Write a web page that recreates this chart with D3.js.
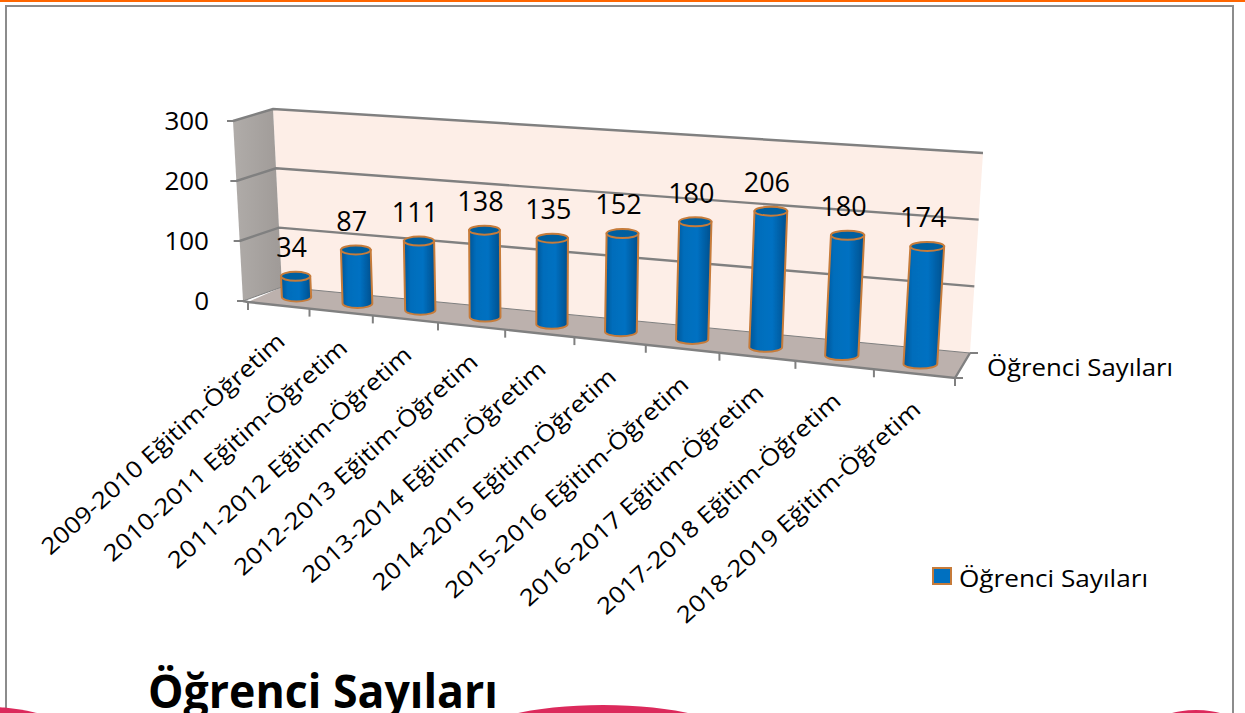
<!DOCTYPE html>
<html>
<head>
<meta charset="utf-8">
<script src="https://cdn.jsdelivr.net/npm/d3@7"></script>
<style>
    html, body { margin: 0; padding: 0; background: #fff; overflow: hidden; }
    text { font-family: "Open Sans", "Noto Sans", sans-serif; fill: #000; }
</style>
</head>
<body>
<script>
const categories = [
    '2009-2010 Eğitim-Öğretim', '2010-2011 Eğitim-Öğretim', '2011-2012 Eğitim-Öğretim',
    '2012-2013 Eğitim-Öğretim', '2013-2014 Eğitim-Öğretim', '2014-2015 Eğitim-Öğretim',
    '2015-2016 Eğitim-Öğretim', '2016-2017 Eğitim-Öğretim', '2017-2018 Eğitim-Öğretim',
    '2018-2019 Eğitim-Öğretim'
];
const values = [34, 87, 111, 138, 135, 152, 180, 206, 180, 174];
const valueTicks = [0, 100, 200, 300];
const seriesName = 'Öğrenci Sayıları';

const width = 1245, height = 713;

const svg = d3.select('body').append('svg')
    .attr('width', width)
    .attr('height', height)
    .attr('viewBox', [0, 0, width, height]);

const defs = svg.append('defs');

// Slight softness, the marks in the picture are not crisp
defs.append('filter').attr('id', 'soft')
    .append('feGaussianBlur').attr('stdDeviation', 0.6);

const barGrad = defs.append('linearGradient').attr('id', 'barGrad');
[[0, '#005596'], [0.22, '#006dbb'], [0.6, '#0071c2'], [1, '#004f8c']].forEach(([o, c]) => {
    barGrad.append('stop').attr('offset', o).attr('stop-color', c);
});

const leftWallGrad = defs.append('linearGradient').attr('id', 'leftWallGrad')
    .attr('x1', 0).attr('x2', 1);
leftWallGrad.append('stop').attr('offset', 0).attr('stop-color', '#b0aca9');
leftWallGrad.append('stop').attr('offset', 1).attr('stop-color', '#9f9a97');

// Scales of the tilted box: position along the axis, depth and height
const bandScale = d3.scaleBand().domain(d3.range(categories.length)).range([0, 1]);
const perspective = u => u / (1.166 - 0.166 * u);
const frontX = d3.scaleLinear().domain([0, 1]).range([248, 955]);
const frontY = d3.scaleLinear().domain([0, 1]).range([302, 378]);
const backX = d3.scaleLinear().domain([0, 1]).range([282, 970]);
const backY = d3.scaleLinear().domain([0, 1]).range([287, 353]);
const wallHeight = d3.scaleLinear().domain([0, 1]).range([178, 200]);
const barHeight = d3.scaleLinear().domain([0, 1]).range([181, 204]);
const barDepth = d3.scaleLinear().domain([0, 1]).range([0.55, 0.38]);
const lean = d3.scaleLinear().domain([0, 1]).range([-9, 13]);
const valueFrac = d3.scaleLinear().domain([0, 300]).range([0, 1]);

function floorPoint(u, w) {
    const p = perspective(u);
    return [
        d3.interpolateNumber(frontX(p), backX(p))(w),
        d3.interpolateNumber(frontY(p), backY(p))(w)
    ];
}

function wallPoint(u, v) {
    const [x, y] = floorPoint(u, 1);
    const f = valueFrac(v);
    return [x + lean(u) * f, y - wallHeight(u) * f];
}

function sidePoint(v) {
    const f = valueFrac(v);
    const [x, y] = floorPoint(0, 0);
    return [x - 5 - 10 * f, y - 1 - 180 * f];
}

const line = d3.line();

// Page decoration
svg.append('rect').attr('width', width).attr('height', 2).attr('fill', '#ff6600');
svg.append('path')
    .attr('d', `M6 ${height + 4}V6H1233V${height + 4}`)
    .attr('fill', 'none').attr('stroke', '#8c8c8c').attr('stroke-width', 2);

const chart = svg.append('g').attr('filter', 'url(#soft)');

// Walls and floor
chart.append('path')
    .attr('d', line([wallPoint(0, 0), wallPoint(0, 300), wallPoint(1, 300), wallPoint(1, 0)]) + 'Z')
    .attr('fill', '#fdeee7');
chart.append('path')
    .attr('d', line([sidePoint(0), sidePoint(300), wallPoint(0, 300), wallPoint(0, 0)]) + 'Z')
    .attr('fill', 'url(#leftWallGrad)');
chart.append('path')
    .attr('d', line([floorPoint(0, 0), floorPoint(0, 1), floorPoint(1, 1), floorPoint(1, 0)]) + 'Z')
    .attr('fill', '#bcb1ad');

// Gridlines run along the back wall and the side wall
valueTicks.forEach(v => {
    chart.append('path')
        .attr('d', line([sidePoint(v), wallPoint(0, v), wallPoint(1, v)]))
        .attr('fill', 'none')
        .attr('stroke', '#808080')
        .attr('stroke-width', v === 0 ? 1 : 2.4);
    const [x, y] = sidePoint(v);
    chart.append('line')
        .attr('x1', x - 6).attr('x2', x + 1).attr('y1', y).attr('y2', y)
        .attr('stroke', '#808080').attr('stroke-width', 2);
});

// Front axis and its ticks
chart.append('path')
    .attr('d', line([sidePoint(0), floorPoint(0, 0), floorPoint(1, 0), floorPoint(1, 1)]))
    .attr('fill', 'none').attr('stroke', '#808080').attr('stroke-width', 2.4);
d3.range(categories.length + 1).forEach(i => {
    const [x, y] = floorPoint(i / categories.length, 0);
    chart.append('line')
        .attr('x1', x).attr('x2', x).attr('y1', y).attr('y2', y + 8)
        .attr('stroke', '#808080').attr('stroke-width', 2);
});
[0, 1].forEach(w => {
    const [x, y] = floorPoint(1, w);
    chart.append('line')
        .attr('x1', x).attr('x2', x + 8).attr('y1', y).attr('y2', y)
        .attr('stroke', '#808080').attr('stroke-width', 2);
});

// Cylinders
const barWidth = d3.scaleLinear().domain([0, 1]).range([29, 34]);
const barData = values.map((v, i) => {
    const u = bandScale(i) + bandScale.bandwidth() / 2;
    const [bx, by] = floorPoint(u, barDepth(u));
    const f = valueFrac(v);
    return {
        v, u,
        bx, by,
        tx: bx + lean(u) * f,
        ty: by - barHeight(u) * f,
        rx: barWidth(u) / 2,
        ry: 4.5
    };
});

const bars = chart.append('g').selectAll('g').data(barData).join('g');
bars.append('path')
    .attr('d', d => `M${d.tx - d.rx} ${d.ty}L${d.bx - d.rx} ${d.by}`
        + `A${d.rx} ${d.ry} 0 0 0 ${d.bx + d.rx} ${d.by}L${d.tx + d.rx} ${d.ty}Z`)
    .attr('fill', 'url(#barGrad)')
    .attr('stroke', '#c67b3a')
    .attr('stroke-width', 2);
bars.append('ellipse')
    .attr('cx', d => d.tx).attr('cy', d => d.ty)
    .attr('rx', d => d.rx).attr('ry', d => d.ry)
    .attr('fill', '#005f9f')
    .attr('stroke', '#c67b3a')
    .attr('stroke-width', 2);

// Data labels
svg.append('g').selectAll('text').data(barData).join('text')
    .attr('x', d => d.tx - 4)
    .attr('y', d => d.ty - 29)
    .attr('dy', '0.36em')
    .attr('text-anchor', 'middle')
    .attr('font-size', 27)
    .text(d => d.v);

// Value axis labels
svg.append('g').selectAll('text').data(valueTicks).join('text')
    .attr('x', 209)
    .attr('y', d => sidePoint(d)[1])
    .attr('dy', '0.36em')
    .attr('text-anchor', 'end')
    .attr('font-size', 26)
    .text(d => d);

// Rotated category labels
svg.append('g').selectAll('text').data(categories).join('text')
    .attr('transform', (d, i) => {
        const [x, y] = floorPoint(bandScale(i) + bandScale.bandwidth() / 2, 0);
        return `translate(${x + 8},${y + 38}) rotate(-42)`;
    })
    .attr('text-anchor', 'end')
    .attr('font-size', 23)
    .attr('textLength', 318)
    .attr('lengthAdjust', 'spacingAndGlyphs')
    .text(d => d);

// Depth axis label
svg.append('text')
    .attr('x', 987).attr('y', 368)
    .attr('dy', '0.36em')
    .attr('font-size', 23)
    .attr('textLength', 186)
    .attr('lengthAdjust', 'spacingAndGlyphs')
    .text(seriesName);

// Legend
svg.append('rect')
    .attr('x', 933).attr('y', 568).attr('width', 18).attr('height', 16)
    .attr('fill', '#0070c0').attr('stroke', '#c67b3a').attr('stroke-width', 2);
svg.append('text')
    .attr('x', 959).attr('y', 579)
    .attr('dy', '0.36em')
    .attr('font-size', 23)
    .attr('textLength', 189)
    .attr('lengthAdjust', 'spacingAndGlyphs')
    .text(seriesName);

// Title
svg.append('text')
    .attr('x', 148).attr('y', 708)
    .attr('font-size', 46)
    .attr('font-weight', 700)
    .attr('textLength', 350)
    .attr('lengthAdjust', 'spacingAndGlyphs')
    .text(seriesName);

// Pink shapes along the bottom edge
const pink = svg.append('g').attr('fill', '#dc2a5c');
pink.append('ellipse').attr('cx', -30).attr('cy', 727).attr('rx', 90).attr('ry', 21);
pink.append('ellipse').attr('cx', 603).attr('cy', 738).attr('rx', 130).attr('ry', 33);
pink.append('ellipse').attr('cx', 1196).attr('cy', 725).attr('rx', 40).attr('ry', 15);
</script>
</body>
</html>
